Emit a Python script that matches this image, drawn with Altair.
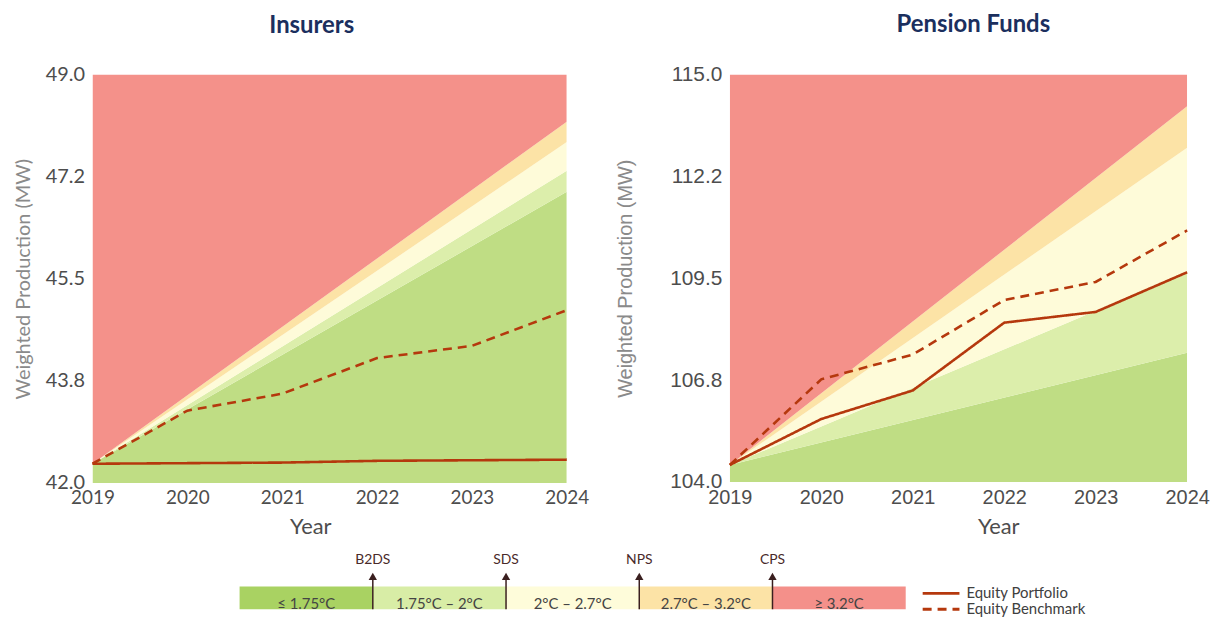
import altair as alt
import pandas as pd

# ---------------- data ----------------
years = [2019, 2020, 2021, 2022, 2023, 2024]
series_names = ["Equity Portfolio", "Equity Benchmark"]

ins_portfolio = [42.33, 42.34, 42.35, 42.38, 42.39, 42.40]
ins_benchmark = [42.33, 43.24, 43.53, 44.14, 44.35, 44.96]
pen_portfolio = [104.46, 105.70, 106.47, 108.30, 108.59, 109.66]
pen_benchmark = [104.46, 106.77, 107.44, 108.91, 109.40, 110.79]

band_names = ["≤ 1.75°C", "1.75°C – 2°C", "2°C – 2.7°C", "2.7°C – 3.2°C", "≥ 3.2°C"]
band_colors = ["#BFDD84", "#DCEEAB", "#FEFBD9", "#FCE3A6", "#F4918A"]
legend_colors = ["#A9D262", "#D8EDA6", "#FEFCDA", "#FCE3A6", "#F4908A"]
scenario_names = ["B2DS", "SDS", "NPS", "CPS"]
scenario_pos = [1, 2, 3, 4]

# scenario boundaries: common start in 2019, values in 2024 (B2DS, SDS, NPS, CPS)
ins_start = 42.33
ins_end = [46.99, 47.35, 47.84, 48.19]
pen_start = 104.46
pen_end = [107.49, 109.66, 113.02, 114.14]

ins_domain = [42.0, 49.0]
pen_domain = [104.0, 115.0]
ins_ticks = [42.0, 43.75, 45.5, 47.25, 49.0]
ins_tick_labels = ["42.0", "43.8", "45.5", "47.2", "49.0"]
pen_ticks = [104.0, 106.75, 109.5, 112.25, 115.0]
pen_tick_labels = ["104.0", "106.8", "109.5", "112.2", "115.0"]

LINE_COLOR = "#B5380D"
TITLE_COLOR = "#1B2F5E"
DASH = [9, 6]


def band_table(start, ends, domain):
    b0 = [domain[0]] + [start] * 4 + [domain[1]]
    b1 = [domain[0]] + list(ends) + [domain[1]]
    rows = []
    for i, name in enumerate(band_names):
        rows.append(dict(band=name, year=years[0], lo=b0[i], hi=b0[i + 1]))
        rows.append(dict(band=name, year=years[-1], lo=b1[i], hi=b1[i + 1]))
    return pd.DataFrame(rows)


def line_table(port, bench):
    rows = []
    for y, v in zip(years, port):
        rows.append(dict(year=y, value=v, series=series_names[0]))
    for y, v in zip(years, bench):
        rows.append(dict(year=y, value=v, series=series_names[1]))
    return pd.DataFrame(rows)


def label_expr(ticks, labels):
    parts = [f"abs(datum.value - {t}) < 0.001 ? '{l}'" for t, l in zip(ticks, labels)]
    return " : ".join(parts) + " : datum.label"


dash_scale = alt.Scale(domain=series_names, range=[[1, 0], DASH])


def panel(title, title_dx, bands, lines, domain, ticks, tick_labels, w, h,
          ylab_font, ylab_size, xlab_font, xlab_size, ytitle_font, ytitle_pad, year_x):
    xscale = alt.Scale(domain=[years[0], years[-1]], nice=False, zero=False)
    yscale = alt.Scale(domain=domain, nice=False, zero=False)
    xaxis = alt.Axis(values=years, format="d", title="Year", grid=False, domain=False,
                     ticks=False, labelFlush=False, labelFont=xlab_font,
                     labelFontSize=xlab_size, labelColor="#4D4D4D", labelPadding=6,
                     titleFont="Lato", titleFontSize=22, titleFontWeight="normal",
                     titleColor="#4D4D4D", titlePadding=9, titleX=year_x)
    yaxis = alt.Axis(values=ticks, labelExpr=label_expr(ticks, tick_labels), grid=False,
                     domain=False, ticks=False, labelFlush=False, labelFont=ylab_font,
                     labelFontSize=ylab_size, labelColor="#4D4D4D", labelPadding=8,
                     title="Weighted Production (MW)", titleFont=ytitle_font,
                     titleFontSize=20, titleFontWeight="normal", titleColor="#8A8A8A",
                     titlePadding=ytitle_pad)
    area = alt.Chart(bands).mark_area(opacity=1, clip=True).encode(
        x=alt.X("year:Q", scale=xscale, axis=xaxis),
        y=alt.Y("lo:Q", scale=yscale, axis=yaxis),
        y2="hi:Q",
        color=alt.Color("band:N", scale=alt.Scale(domain=band_names, range=band_colors),
                        legend=None),
    )
    line = alt.Chart(lines).mark_line(strokeWidth=2.6, color=LINE_COLOR).encode(
        x=alt.X("year:Q", scale=xscale),
        y=alt.Y("value:Q", scale=yscale),
        strokeDash=alt.StrokeDash("series:N", scale=dash_scale, legend=None),
        detail="series:N",
    )
    return alt.layer(area, line).properties(
        width=w, height=h,
        title=alt.TitleParams(title, font="Lato", fontSize=24, fontWeight="bold",
                              color=TITLE_COLOR, frame="group", anchor="middle",
                              dx=title_dx, offset=27),
    )


left = panel("Insurers", -18, band_table(ins_start, ins_end, ins_domain),
             line_table(ins_portfolio, ins_benchmark), ins_domain, ins_ticks,
             ins_tick_labels, 477, 411, "Lato", 20, "Lato", 19, "Lato", 12, 219)
right = panel("Pension Funds", 15, band_table(pen_start, pen_end, pen_domain),
              line_table(pen_portfolio, pen_benchmark), pen_domain, pen_ticks,
              pen_tick_labels, 460, 410, "Liberation Sans", 21, "Liberation Sans", 20,
              "Liberation Sans", 34, 270)

top = alt.hconcat(left, right, spacing=26).resolve_scale(x="independent", y="independent")

# ---------------- bottom colour key ----------------
key_df = pd.DataFrame({
    "band": band_names,
    "fill": legend_colors,
    "i0": list(range(5)),
    "i1": list(range(1, 6)),
    "mid": [i + 0.5 for i in range(5)],
})
scen_df = pd.DataFrame({"scenario": scenario_names, "pos": scenario_pos})
ser_df = pd.DataFrame({"series": series_names, "k": list(range(len(series_names)))})
KEY_W = 1000
kx = alt.Scale(domain=[-1.104, -1.104 + KEY_W / 134.0], nice=False, zero=False)

key_rect = alt.Chart(key_df).mark_rect().encode(
    x=alt.X("i0:Q", scale=kx, axis=None), x2="i1:Q",
    y=alt.value(43), y2=alt.value(66),
    color=alt.Color("fill:N", scale=None, legend=None),
)
key_text = alt.Chart(key_df).mark_text(font="Lato", fontSize=15, color="#444444").encode(
    x=alt.X("mid:Q", scale=kx, axis=None), y=alt.value(61), text="band:N")
arrow_rule = alt.Chart(scen_df).mark_rule(color="#3A1F1F", strokeWidth=1.5).encode(
    x=alt.X("pos:Q", scale=kx, axis=None), y=alt.value(32), y2=alt.value(66))
arrow_head = alt.Chart(scen_df).mark_point(shape="triangle-up", filled=True, size=70,
                                           color="#3A1F1F", opacity=1).encode(
    x=alt.X("pos:Q", scale=kx, axis=None), y=alt.value(33))
arrow_text = alt.Chart(scen_df).mark_text(font="Lato", fontSize=14, color="#4A2A2A").encode(
    x=alt.X("pos:Q", scale=kx, axis=None), y=alt.value(16), text="scenario:N")

ser_y = alt.Y("k:Q", scale=alt.Scale(domain=[0, 1], range=[50, 66]), axis=None)
ser_line = alt.Chart(ser_df).mark_rule(strokeWidth=3, color=LINE_COLOR).encode(
    x=alt.value(835), x2=alt.value(872), y=ser_y,
    strokeDash=alt.StrokeDash("series:N", scale=dash_scale, legend=None))
ser_text = alt.Chart(ser_df).mark_text(font="Lato", fontSize=15, color="#404040",
                                       align="left", baseline="middle").encode(
    x=alt.value(879), y=ser_y, text="series:N")

key = alt.layer(key_rect, key_text, arrow_rule, arrow_head, arrow_text,
                ser_line, ser_text).properties(width=KEY_W, height=66)

chart = alt.vconcat(top, key, spacing=6).resolve_scale(
    color="independent", strokeDash="shared").properties(
    padding={"left": 5, "top": 3, "right": 0, "bottom": 0}
).configure_view(stroke=None)

chart.save("out.html", embed_options={"renderer": "svg", "actions": False})
